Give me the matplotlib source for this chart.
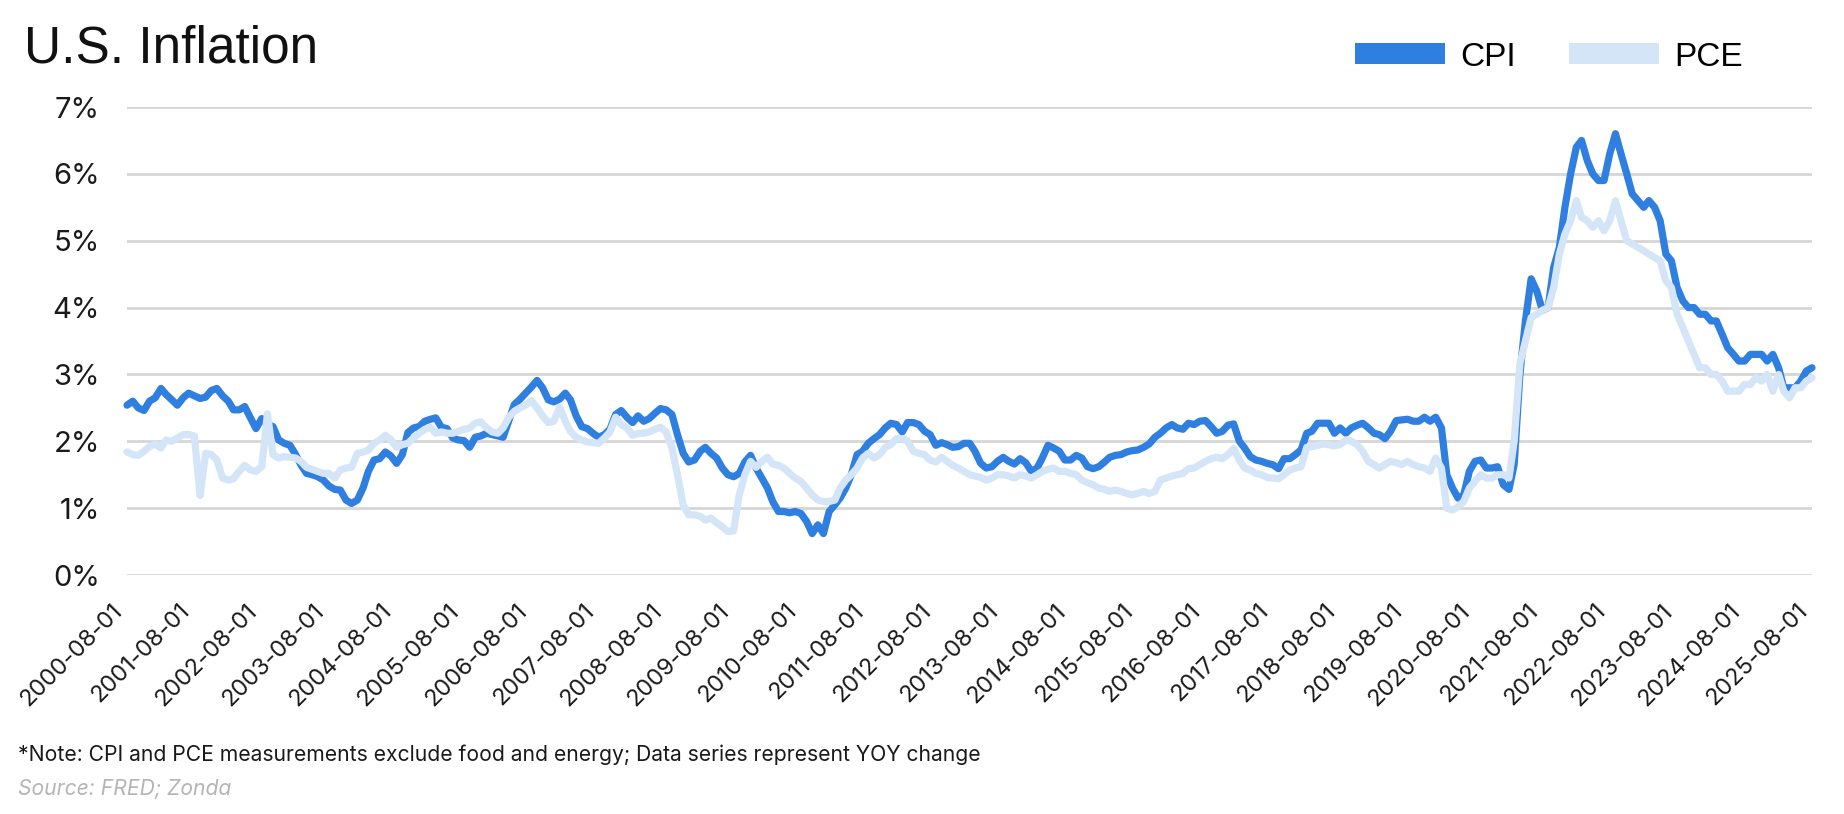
import matplotlib
matplotlib.use("Agg")
import matplotlib.pyplot as plt
from matplotlib.patches import Patch
import pandas as pd

# ---- data (YoY %, monthly, 2000-08 .. 2025-08) ----
start_date = "2000-08-01"
cpi = [
 2.54, 2.60, 2.50, 2.46, 2.60, 2.65, 2.79, 2.70, 2.62, 2.54, 2.65, 2.72,
 2.68, 2.64, 2.66, 2.76, 2.79, 2.68, 2.60, 2.47, 2.47, 2.52, 2.35, 2.19,
 2.34, 2.25, 2.22, 2.02, 1.97, 1.94, 1.80, 1.65, 1.52, 1.50, 1.47, 1.42,
 1.33, 1.28, 1.27, 1.12, 1.07, 1.12, 1.30, 1.55, 1.72, 1.74, 1.84, 1.78,
 1.67, 1.80, 2.13, 2.20, 2.22, 2.30, 2.33, 2.35, 2.21, 2.19, 2.05, 2.02,
 2.01, 1.91, 2.06, 2.08, 2.12, 2.10, 2.08, 2.06, 2.31, 2.55, 2.63, 2.72,
 2.81, 2.91, 2.80, 2.62, 2.59, 2.63, 2.72, 2.62, 2.38, 2.22, 2.19, 2.12,
 2.06, 2.10, 2.18, 2.40, 2.46, 2.36, 2.28, 2.38, 2.30, 2.34, 2.42, 2.49,
 2.47, 2.40, 2.10, 1.82, 1.69, 1.72, 1.85, 1.91, 1.82, 1.75, 1.60, 1.50,
 1.47, 1.52, 1.69, 1.79, 1.60, 1.45, 1.30, 1.10, 0.95, 0.95, 0.93, 0.95,
 0.92, 0.80, 0.62, 0.75, 0.62, 0.95, 1.05, 1.15, 1.30, 1.50, 1.80, 1.85,
 1.97, 2.04, 2.10, 2.20, 2.27, 2.25, 2.14, 2.28, 2.28, 2.25, 2.15, 2.10,
 1.94, 1.98, 1.95, 1.91, 1.92, 1.97, 1.97, 1.85, 1.67, 1.60, 1.62, 1.70,
 1.76, 1.70, 1.66, 1.74, 1.68, 1.55, 1.60, 1.75, 1.94, 1.90, 1.85, 1.72,
 1.72, 1.79, 1.75, 1.62, 1.59, 1.62, 1.69, 1.76, 1.79, 1.80, 1.84, 1.86,
 1.87, 1.91, 1.96, 2.06, 2.12, 2.20, 2.25, 2.20, 2.18, 2.27, 2.25, 2.30,
 2.31, 2.22, 2.12, 2.15, 2.24, 2.26, 2.00, 1.90, 1.77, 1.72, 1.70, 1.67,
 1.65, 1.59, 1.74, 1.74, 1.80, 1.87, 2.12, 2.15, 2.27, 2.27, 2.27, 2.12,
 2.20, 2.12, 2.20, 2.24, 2.27, 2.20, 2.12, 2.10, 2.04, 2.15, 2.31, 2.32,
 2.33, 2.30, 2.30, 2.36, 2.30, 2.36, 2.20, 1.50, 1.30, 1.15, 1.20, 1.55,
 1.70, 1.72, 1.60, 1.60, 1.62, 1.35, 1.28, 1.65, 3.00, 3.80, 4.43, 4.25,
 3.96, 4.00, 4.60, 4.90, 5.50, 6.00, 6.40, 6.50, 6.20, 6.00, 5.90, 5.90,
 6.30, 6.60, 6.30, 6.00, 5.70, 5.60, 5.50, 5.60, 5.50, 5.30, 4.80, 4.70,
 4.30, 4.10, 4.00, 4.00, 3.90, 3.90, 3.80, 3.80, 3.60, 3.40, 3.30, 3.20,
 3.20, 3.30, 3.30, 3.30, 3.20, 3.30, 3.10, 2.80, 2.80, 2.80, 2.90, 3.05,
 3.10,
]
pce = [
 1.84, 1.80, 1.79, 1.85, 1.92, 1.96, 1.90, 2.02, 2.00, 2.05, 2.10, 2.10,
 2.08, 1.19, 1.82, 1.80, 1.72, 1.45, 1.42, 1.44, 1.55, 1.64, 1.57, 1.55,
 1.62, 2.41, 1.80, 1.75, 1.77, 1.76, 1.75, 1.70, 1.61, 1.58, 1.55, 1.52,
 1.52, 1.45, 1.57, 1.60, 1.61, 1.82, 1.84, 1.87, 1.97, 2.02, 2.09, 2.02,
 1.91, 1.95, 1.97, 2.05, 2.12, 2.18, 2.21, 2.12, 2.14, 2.12, 2.12, 2.15,
 2.18, 2.20, 2.27, 2.29, 2.20, 2.14, 2.12, 2.20, 2.36, 2.45, 2.50, 2.54,
 2.61, 2.50, 2.38, 2.28, 2.30, 2.51, 2.30, 2.15, 2.06, 2.02, 1.99, 1.98,
 1.97, 2.05, 2.14, 2.36, 2.25, 2.20, 2.09, 2.12, 2.12, 2.14, 2.18, 2.21,
 2.14, 1.90, 1.50, 1.05, 0.90, 0.90, 0.88, 0.82, 0.85, 0.78, 0.72, 0.65,
 0.66, 1.20, 1.50, 1.70, 1.61, 1.70, 1.76, 1.66, 1.64, 1.60, 1.52, 1.45,
 1.40, 1.30, 1.20, 1.12, 1.10, 1.10, 1.12, 1.30, 1.42, 1.50, 1.60, 1.75,
 1.82, 1.75, 1.80, 1.91, 1.95, 2.04, 2.04, 2.00, 1.85, 1.82, 1.80, 1.72,
 1.69, 1.76, 1.70, 1.64, 1.60, 1.55, 1.50, 1.48, 1.46, 1.42, 1.45, 1.50,
 1.50, 1.48, 1.45, 1.50, 1.48, 1.45, 1.50, 1.55, 1.58, 1.60, 1.55, 1.55,
 1.52, 1.50, 1.42, 1.38, 1.35, 1.30, 1.28, 1.25, 1.27, 1.25, 1.22, 1.20,
 1.22, 1.25, 1.22, 1.25, 1.42, 1.45, 1.48, 1.50, 1.52, 1.59, 1.60, 1.65,
 1.70, 1.74, 1.76, 1.74, 1.80, 1.89, 1.72, 1.60, 1.57, 1.52, 1.50, 1.46,
 1.45, 1.44, 1.50, 1.57, 1.60, 1.62, 1.91, 1.92, 1.94, 1.96, 1.95, 1.93,
 1.95, 2.02, 2.00, 1.95, 1.85, 1.70, 1.65, 1.60, 1.65, 1.70, 1.68, 1.65,
 1.70, 1.65, 1.62, 1.60, 1.55, 1.75, 1.60, 1.00, 0.97, 1.02, 1.10, 1.30,
 1.40, 1.50, 1.45, 1.45, 1.50, 1.50, 1.45, 2.00, 3.16, 3.50, 3.85, 3.90,
 3.96, 4.00, 4.30, 4.80, 5.10, 5.30, 5.60, 5.35, 5.30, 5.20, 5.30, 5.15,
 5.30, 5.60, 5.30, 5.00, 4.95, 4.90, 4.85, 4.80, 4.75, 4.70, 4.40, 4.30,
 3.90, 3.70, 3.50, 3.30, 3.10, 3.10, 3.00, 3.00, 2.90, 2.75, 2.75, 2.75,
 2.85, 2.85, 2.95, 2.90, 3.00, 2.75, 3.00, 2.75, 2.65, 2.80, 2.80, 2.90,
 2.95,
]
series_names = ["CPI", "PCE"]
y_ticks = [0, 1, 2, 3, 4, 5, 6, 7]
title = "U.S. Inflation"
note = "*Note: CPI and PCE measurements exclude food and energy; Data series represent YOY change"
source = "Source: FRED; Zonda"

CPI_COLOR = "#2f7fe0"
PCE_COLOR = "#d4e5f8"

dates = pd.date_range(start_date, periods=len(cpi), freq="MS")

W, H = 1844, 814
fig = plt.figure(figsize=(W / 100, H / 100), dpi=100)
ax = fig.add_axes([127 / W, 1 - 575 / H, (1812 - 127) / W, (575 - 107) / H])

ax.plot(dates, cpi, color=CPI_COLOR, lw=5.2, solid_capstyle="round",
        solid_joinstyle="round", zorder=3, clip_on=False)
ax.plot(dates, pce, color=PCE_COLOR, lw=5.2, solid_capstyle="round",
        solid_joinstyle="round", zorder=4, clip_on=False)

ax.set_ylim(0, 7)
ax.set_yticks(y_ticks)
ax.set_yticklabels([f"{v}%" for v in y_ticks])
ax.set_xlim(dates[0], dates[-1])
tick_dates = dates[::12]
ax.set_xticks(tick_dates)
ax.set_xticklabels([d.strftime("%Y-%m-%d") for d in tick_dates],
                   rotation=45, ha="right", rotation_mode="default")

for s in ax.spines.values():
    s.set_visible(False)
ax.grid(axis="y", color="#d6d6d6", lw=2)
ax.set_axisbelow(True)
ax.tick_params(axis="both", length=0)
ax.tick_params(axis="y", pad=19.5, labelsize=21, labelcolor="#1a1a1a")
ax.tick_params(axis="x", pad=18, labelsize=17, labelcolor="#1a1a1a")
for lab in ax.get_yticklabels() + ax.get_xticklabels():
    lab.set_fontfamily("Inter")

fig.text(24 / W, 1 - 49 / H, title, fontsize=37, family="Liberation Sans",
         color="#111111", va="center", ha="left")

handles = [Patch(facecolor=CPI_COLOR, edgecolor="none"),
           Patch(facecolor=PCE_COLOR, edgecolor="none")]
fig.legend(handles, series_names, loc="center left",
           bbox_to_anchor=(1355 / W, 1 - 57 / H), ncol=2, frameon=False,
           prop={"family": "Liberation Sans", "size": 24},
           handlelength=2.7, handleheight=0.6, handletextpad=0.45,
           columnspacing=1.6, borderpad=0, borderaxespad=0)

fig.text(18 / W, 1 - 755 / H, note, fontsize=15.2, family="Inter",
         color="#1a1a1a", va="center", ha="left")
fig.text(18 / W, 1 - 789 / H, source, fontsize=15.2, family="Inter",
         color="#b5b5b5", va="center", ha="left", style="italic")

fig.savefig("out.png", dpi=100)
